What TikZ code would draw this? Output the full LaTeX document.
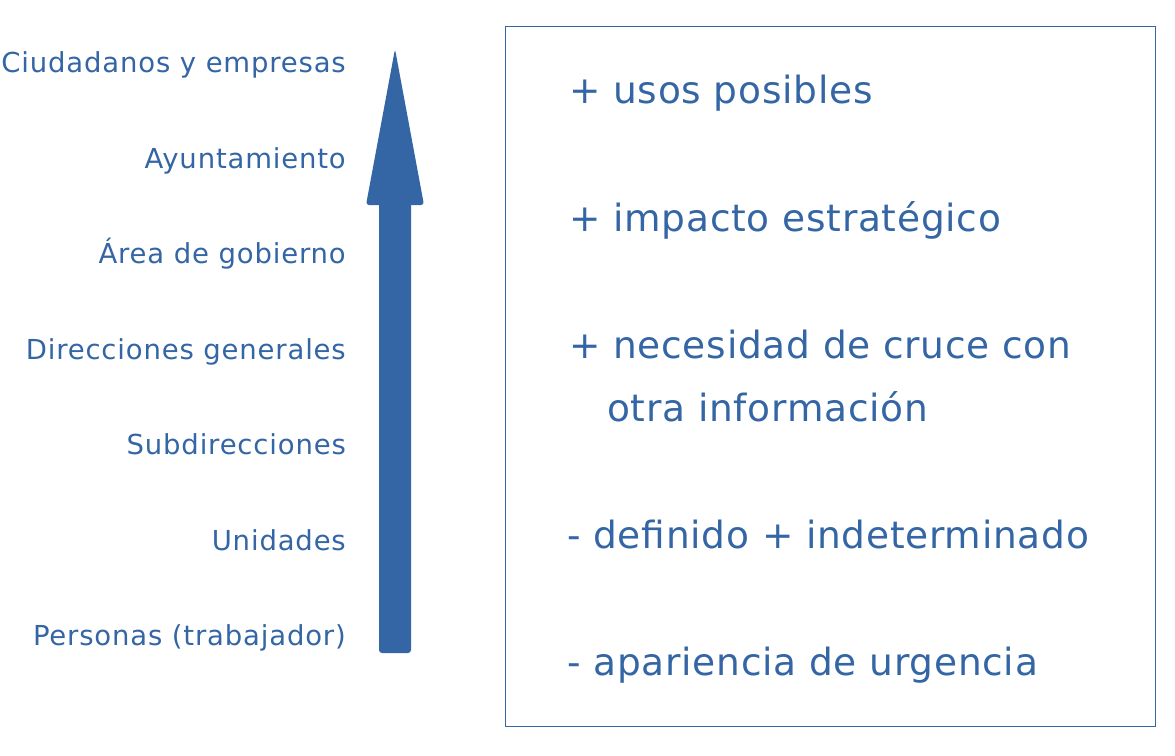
\documentclass[tikz,border=0pt]{standalone}
\usepackage{fontspec}
\setmainfont{DejaVu Sans}
\newfontfamily\spaced[LetterSpace=3]{DejaVu Sans}
\newfontfamily\spacedr[LetterSpace=2]{DejaVu Sans}
\definecolor{tblue}{HTML}{3465A4}
\begin{document}
\begin{tikzpicture}[x=1pt,y=-1pt,
  lefttxt/.style={anchor=base east,inner sep=0pt,text=tblue,font=\spaced\fontsize{27.5}{33}\selectfont},
  righttxt/.style={anchor=base west,inner sep=0pt,text=tblue,font=\spacedr\fontsize{37.5}{45}\selectfont}]
\useasboundingbox (0,0) rectangle (1175,755);
% left labels
\node[lefttxt] (l1) at (346,72.5) {Ciudadanos y empresas};
\node[lefttxt] (l2) at (346,168) {Ayuntamiento};
\node[lefttxt] (l3) at (346,263.5) {Área de gobierno};
\node[lefttxt] (l4) at (346,359) {Direcciones generales};
\node[lefttxt] (l5) at (346,454.5) {Subdirecciones};
\node[lefttxt] (l6) at (346,550) {Unidades};
\node[lefttxt] (l7) at (346,645) {Personas (trabajador)};
% arrow
\fill[tblue,rounded corners=3pt] (379,200) rectangle (411,653);
\fill[tblue,rounded corners=3pt] (395,49) -- (424,205) -- (366,205) -- cycle;
% box
\draw[tblue,line width=1pt] (505.5,26.5) rectangle (1155,726);
% right texts
\node[righttxt] (r1) at (569,103) {+ usos posibles};
\node[righttxt] (r2) at (569,231) {+ impacto estratégico};
\node[righttxt] (r3) at (569,358) {+ necesidad de cruce con};
\node[righttxt] (r4) at (607,421) {otra información};
\node[righttxt] (r5) at (567,548) {- definido + indeterminado};
\node[righttxt] (r6) at (567,675) {- apariencia de urgencia};
\end{tikzpicture}
\end{document}
